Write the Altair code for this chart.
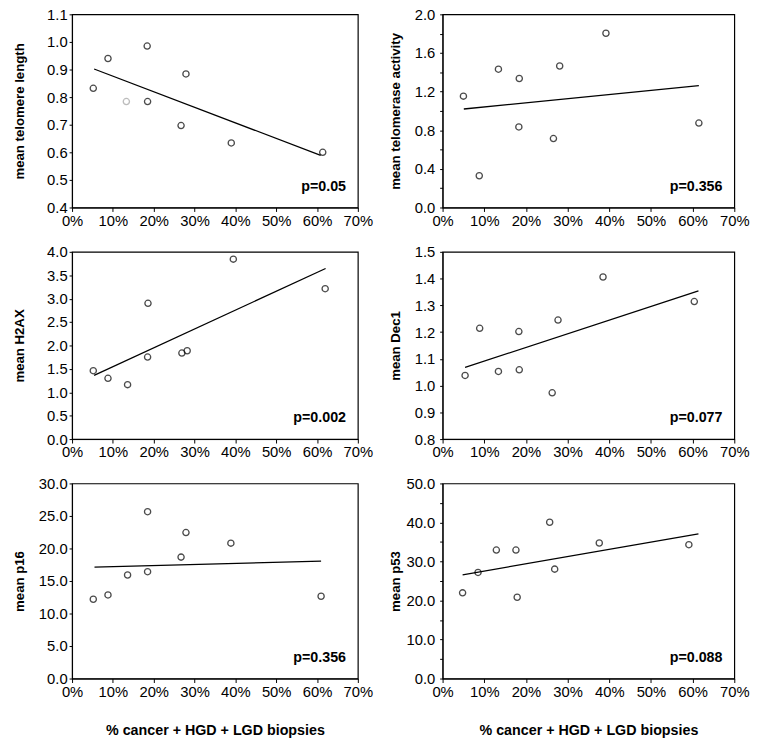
import altair as alt
import pandas as pd

FONT = "Liberation Sans"

x_title = "% cancer + HGD + LGD biopsies"
x_ticks = [0.0, 0.1, 0.2, 0.3, 0.4, 0.5, 0.6, 0.7]

titles = ["mean telomere length", "mean telomerase activity", "mean H2AX",
          "mean Dec1", "mean p16", "mean p53"]
p_values = ["p=0.05", "p=0.356", "p=0.002", "p=0.077", "p=0.356", "p=0.088"]

# x = % cancer + HGD + LGD biopsies (percent), y = marker mean
x_telomere = [5.2, 8.8, 13.3, 18.4, 18.5, 26.7, 27.9, 39.0, 61.4]
y_telomere = [0.832, 0.940, 0.784, 0.985, 0.784, 0.697, 0.884, 0.634, 0.600]

x_telomerase = [5.0, 8.8, 13.4, 18.3, 18.4, 26.6, 28.1, 39.2, 61.5]
y_telomerase = [1.153, 0.329, 1.432, 0.834, 1.336, 0.714, 1.465, 1.804, 0.874]

x_h2ax = [5.2, 8.8, 13.6, 18.6, 18.5, 26.9, 28.2, 39.5, 62.0]
y_h2ax = [1.461, 1.298, 1.163, 2.901, 1.752, 1.837, 1.887, 3.844, 3.213]

x_dec1 = [5.4, 8.9, 13.4, 18.3, 18.4, 26.3, 27.7, 38.5, 60.4]
y_dec1 = [1.038, 1.214, 1.053, 1.202, 1.059, 0.973, 1.245, 1.406, 1.314]

x_p16 = [5.2, 8.8, 13.6, 18.5, 18.5, 26.7, 27.9, 38.9, 61.0]
y_p16 = [12.19, 12.86, 15.92, 25.66, 16.43, 18.67, 22.45, 20.82, 12.65]

x_p53 = [4.8, 8.5, 12.9, 17.6, 17.9, 25.7, 26.9, 37.6, 59.1]
y_p53 = [21.96, 27.19, 32.93, 32.93, 20.84, 40.05, 28.04, 34.73, 34.30]

# regression line end points (x %, y)
fit_x = [[5.4, 60.9], [5.1, 61.5], [5.4, 62.1], [5.4, 61.4], [5.5, 61.0], [4.8, 61.4]]
fit_y = [[0.902, 0.589], [1.020, 1.262], [1.362, 3.645], [1.068, 1.354],
         [17.14, 18.06], [26.59, 37.05]]

# y axis ranges: (min, max, major step, minor step)
y_ranges = [(0.4, 1.1, 0.1, 0.1), (0.0, 2.0, 0.4, 0.2), (0.0, 4.0, 0.5, 0.5),
            (0.8, 1.5, 0.1, 0.1), (0.0, 30.0, 5.0, 5.0), (0.0, 50.0, 10.0, 5.0)]

xs = [x_telomere, x_telomerase, x_h2ax, x_dec1, x_p16, x_p53]
ys = [y_telomere, y_telomerase, y_h2ax, y_dec1, y_p16, y_p53]

widths = [290, 296]
heights = [196, 190, 198]


def make_panel(k):
    row, col = divmod(k, 2)
    w, h = widths[col], heights[row]
    lo, hi, major, minor = y_ranges[k]
    n = int(round((hi - lo) / minor))
    yvals = [round(lo + i * minor, 6) for i in range(n + 1)]
    step = int(round(major / minor))
    label_expr = (f"round((datum.value - {lo}) / {minor}) % {step} == 0 ? "
                  f"format(datum.value, '.1f') : ''")

    pts = pd.DataFrame({"x": [v / 100 for v in xs[k]], "y": ys[k],
                        "i": list(range(len(xs[k])))})
    fit = pd.DataFrame({"x": [v / 100 for v in fit_x[k]], "y": fit_y[k]})
    ptxt = pd.DataFrame({"p": [p_values[k]]})

    xaxis_kw = dict(values=x_ticks, format=".0%", tickSize=4, labelPadding=2,
                    labelFlush=False, labelOverlap=False)
    if row == 2:
        xaxis = alt.Axis(title=x_title, titlePadding=25, titleFontSize=14.5,
                         **xaxis_kw)
    else:
        xaxis = alt.Axis(title=None, **xaxis_kw)

    ext = 36 if col == 0 else 34
    yaxis = alt.Axis(title=titles[k], values=yvals, labelExpr=label_expr,
                     labelOverlap=False, labelFlush=False, titleFontSize=13.4,
                     tickSize=3, labelPadding=2 if col == 0 else 5,
                     minExtent=ext, maxExtent=ext,
                     titlePadding=10 if col == 0 else 7)

    xenc = alt.X("x:Q", scale=alt.Scale(domain=[0, 0.7], nice=False), axis=xaxis)
    yenc = alt.Y("y:Q", scale=alt.Scale(domain=[lo, hi], nice=False, zero=False),
                 axis=yaxis)

    stroke = alt.value("black")
    if k == 0:
        stroke = alt.condition("datum.i == 2", alt.value("#a0a0a0"), alt.value("black"))

    points = alt.Chart(pts).mark_point(shape="circle", filled=False, size=40,
                                       strokeWidth=1.3).encode(
        x=xenc, y=yenc, stroke=stroke)
    line = alt.Chart(fit).mark_line(color="black", strokeWidth=1.3).encode(
        x=xenc, y=yenc)
    text = alt.Chart(ptxt).mark_text(align="right", baseline="middle",
                                     fontWeight="bold", fontSize=14.5, font=FONT,
                                     color="black").encode(
        x=alt.value(w - 12), y=alt.value(h - 21), text="p:N")
    return alt.layer(line, points, text).properties(width=w, height=h)


rows = [alt.hconcat(make_panel(2 * r), make_panel(2 * r + 1), spacing=14)
        for r in range(3)]
chart = alt.vconcat(*rows, spacing=15).properties(
    padding={"left": 4, "top": -7, "right": 4, "bottom": 2}
).configure_view(stroke="black", strokeWidth=1.2).configure_axis(
    labelFont=FONT, labelFontSize=15, labelColor="black",
    titleFont=FONT, titleFontWeight="bold", titleColor="black",
    domainColor="black", tickColor="black", grid=False
)

chart.save("out.html", embed_options={"renderer": "svg", "actions": False})
